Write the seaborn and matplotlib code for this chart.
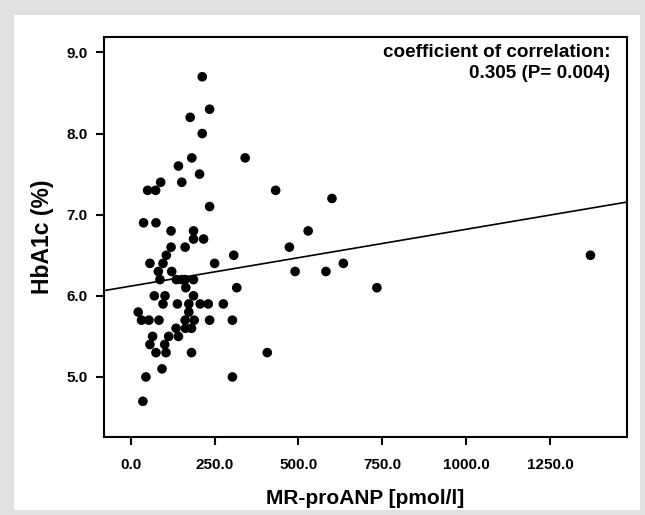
import matplotlib
matplotlib.use("Agg")
import matplotlib.pyplot as plt
import seaborn as sns
import pandas as pd
from matplotlib.patches import Rectangle

# ---- data ----
mr_proanp = [213, 235, 177, 213, 182, 341, 142, 205, 89, 152, 50, 74, 432, 235,
             38, 75, 120, 187, 187, 217, 120, 162, 307, 106, 57, 96, 250, 82, 122,
             87, 136, 152, 162, 187, 164, 316, 70, 102, 187, 96, 139, 173, 207, 231,
             276, 173, 22, 32, 54, 84, 162, 189, 235, 303, 135, 163, 181, 65, 113,
             142, 57, 101, 75, 105, 181, 407, 93, 45, 303, 36, 600, 529, 473, 490,
             582, 634, 734, 1371]
hba1c = [8.7, 8.3, 8.2, 8.0, 7.7, 7.7, 7.6, 7.5, 7.4, 7.4, 7.3, 7.3, 7.3, 7.1,
         6.9, 6.9, 6.8, 6.8, 6.7, 6.7, 6.6, 6.6, 6.5, 6.5, 6.4, 6.4, 6.4, 6.3, 6.3,
         6.2, 6.2, 6.2, 6.2, 6.2, 6.1, 6.1, 6.0, 6.0, 6.0, 5.9, 5.9, 5.9, 5.9, 5.9,
         5.9, 5.8, 5.8, 5.7, 5.7, 5.7, 5.7, 5.7, 5.7, 5.7, 5.6, 5.6, 5.6, 5.5, 5.5,
         5.5, 5.4, 5.4, 5.3, 5.3, 5.3, 5.3, 5.1, 5.0, 5.0, 4.7, 7.2, 6.8, 6.6, 6.3,
         6.3, 6.4, 6.1, 6.5]
# linear fit line as printed in the source figure
fit_intercept = 6.12
fit_slope = 0.0007
x_ticks = [0, 250, 500, 750, 1000, 1250]
x_tick_labels = ["0.0", "250.0", "500.0", "750.0", "1000.0", "1250.0"]
y_ticks = [5, 6, 7, 8, 9]
y_tick_labels = ["5.0", "6.0", "7.0", "8.0", "9.0"]
annotation = "coefficient of correlation:\n0.305 (P= 0.004)"

df = pd.DataFrame({"MR-proANP": mr_proanp, "HbA1c": hba1c})

sns.set_style("ticks")
plt.rcParams["font.family"] = ["Liberation Sans", "DejaVu Sans"]
for key in ["text.color", "axes.labelcolor", "xtick.color", "ytick.color",
            "axes.edgecolor"]:
    plt.rcParams[key] = "black"

fig = plt.figure(figsize=(6.45, 5.15), dpi=100, facecolor="#e1e1e1")
fig.patches.append(Rectangle((14 / 645, 5 / 515), 626 / 645, 495 / 515,
                             transform=fig.transFigure, facecolor="white",
                             edgecolor="none", zorder=-10))
ax = fig.add_axes([104 / 645, 78 / 515, 523 / 645, 400 / 515])
ax.set_facecolor("white")
ax.set_xlim(-80, 1480)
ax.set_ylim(4.26, 9.19)

sns.scatterplot(data=df, x="MR-proANP", y="HbA1c", ax=ax, s=48, color="black",
                edgecolor="none", linewidth=0)
ax.axline((0, fit_intercept), slope=fit_slope, color="black", linewidth=1.2)

ax.set_xticks(x_ticks)
ax.set_xticklabels(x_tick_labels, fontsize=11, fontweight="bold")
ax.set_yticks(y_ticks)
ax.set_yticklabels(y_tick_labels, fontsize=11, fontweight="bold")
ax.tick_params(direction="out", length=6, width=1.5, color="black")
ax.tick_params(axis="x", pad=9)
ax.tick_params(axis="y", pad=6)
for sp in ax.spines.values():
    sp.set_visible(True)
    sp.set_linewidth(1.5)
    sp.set_color("black")
ax.set_xlabel("MR-proANP [pmol/l]", fontsize=15, fontweight="bold", labelpad=12)
ax.set_ylabel("HbA1c (%)", fontsize=16.5, fontweight="bold", labelpad=9)

ax.text(0.968, 0.982, annotation, transform=ax.transAxes, ha="right", va="top",
        fontsize=13.6, fontweight="bold", multialignment="right", linespacing=1.3)

fig.savefig("out.png", dpi=100, facecolor=fig.get_facecolor())
